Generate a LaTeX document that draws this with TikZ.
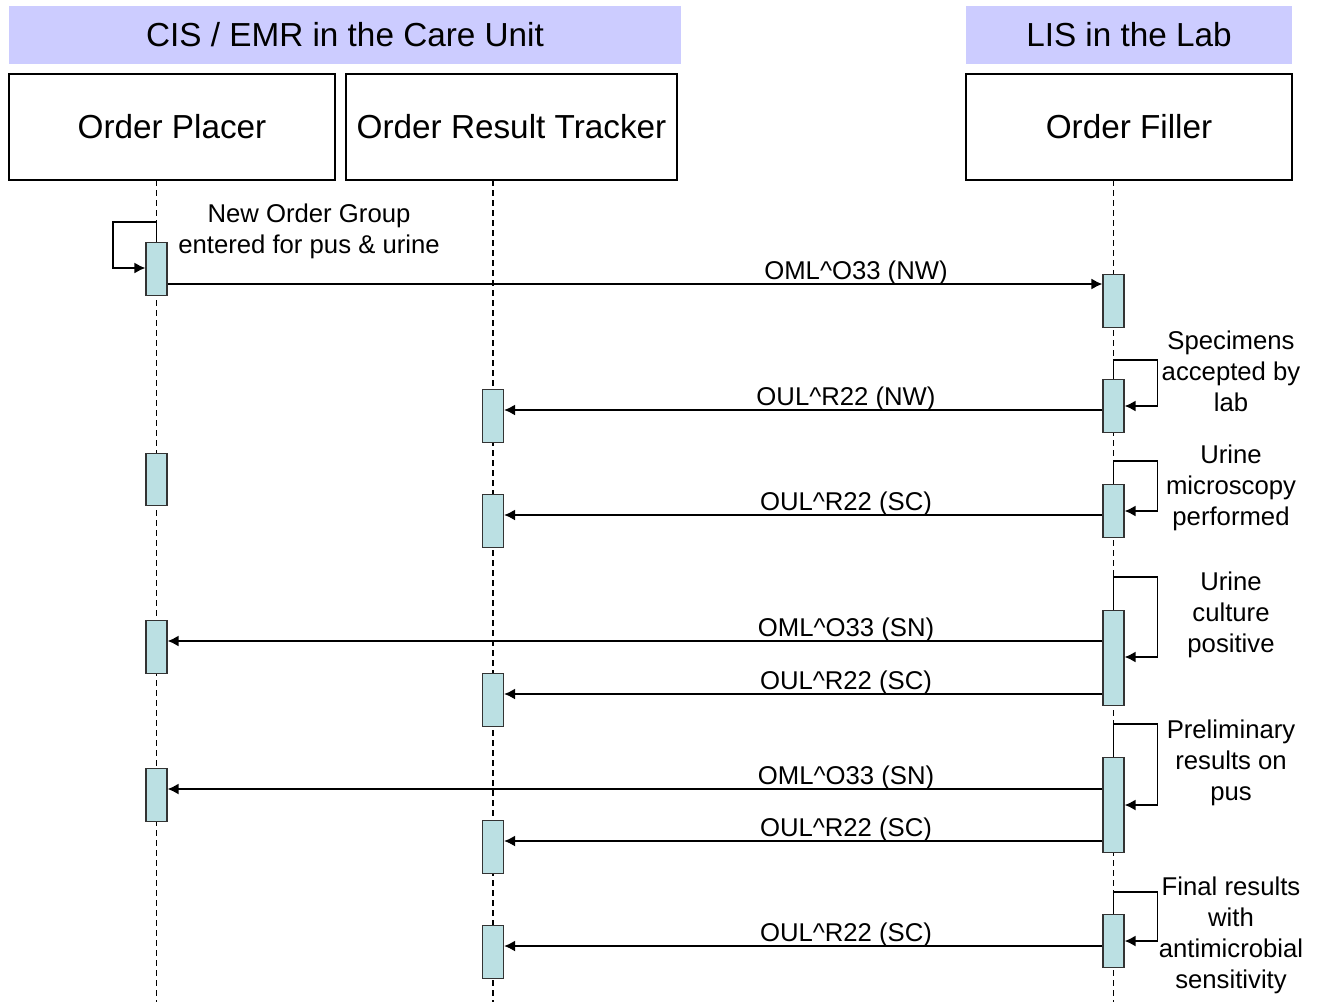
\documentclass[tikz,border=0pt]{standalone}
\usepackage{fontspec}
\setmainfont{Liberation Sans}
\usetikzlibrary{arrows.meta}

\definecolor{groupfill}{HTML}{CCCCFF}
\definecolor{actfill}{HTML}{BBE0E3}

\begin{document}
\begin{tikzpicture}[x = 1pt, y = -1pt, > = {Latex[length = 11pt, width = 11pt]},
	group/.style = {fill = groupfill, minimum height = 58pt, inner sep = 0pt, font = \fontsize{33.3}{40}\selectfont},
	actor/.style = {draw, line width = 1.2pt, minimum height = 106pt, inner sep = 0pt, font = \fontsize{33.3}{40}\selectfont},
	act/.style = {draw = black!80, line width = 1.2pt, fill = actfill, minimum width = 21pt, inner sep = 0pt, anchor = north},
	lbl/.style = {font = \fontsize{25.7}{31}\selectfont, align = center, inner sep = 0pt},
	life/.style = {dash pattern = on 6pt off 4pt, line width = 1.1pt},
	msg/.style = {->, line width = 1.6pt}]

	% Picture frame

	\useasboundingbox (0, 0) rectangle (1324, 1002);

	% Lifeline x positions

	\def\xp{156.5}
	\def\xt{493}
	\def\xf{1113.5}

	% Systems

	\node [group, minimum width = 672pt] (cis) at (345, 35) {CIS / EMR in the Care Unit};
	\node [group, minimum width = 326pt] (lis) at (1129, 35) {LIS in the Lab};

	% Actors

	\node [actor, minimum width = 326pt] (placer) at (172, 127) {Order Placer};
	\node [actor, minimum width = 331pt] (tracker) at (511.5, 127) {Order Result Tracker};
	\node [actor, minimum width = 326pt] (filler) at (1129, 127) {Order Filler};

	% Lifelines

	\draw [life] (\xp, 180) -- (\xp, 1002);
	\draw [life] (\xt, 180) -- (\xt, 1002);
	\draw [life] (\xf, 180) -- (\xf, 1002);

	% Activations

	\node [act, minimum height = 53pt] (pa1) at (\xp, 242) {};
	\node [act, minimum height = 52pt] (pa2) at (\xp, 453) {};
	\node [act, minimum height = 53pt] (pa3) at (\xp, 620) {};
	\node [act, minimum height = 53pt] (pa4) at (\xp, 768) {};

	\node [act, minimum height = 53pt] (ta1) at (\xt, 389) {};
	\node [act, minimum height = 53pt] (ta2) at (\xt, 494) {};
	\node [act, minimum height = 53pt] (ta3) at (\xt, 673) {};
	\node [act, minimum height = 53pt] (ta4) at (\xt, 820) {};
	\node [act, minimum height = 53pt] (ta5) at (\xt, 925) {};

	\node [act, minimum height = 53pt] (fa1) at (\xf, 274) {};
	\node [act, minimum height = 53pt] (fa2) at (\xf, 379) {};
	\node [act, minimum height = 53pt] (fa3) at (\xf, 484) {};
	\node [act, minimum height = 95pt] (fa4) at (\xf, 610) {};
	\node [act, minimum height = 95pt] (fa5) at (\xf, 757) {};
	\node [act, minimum height = 53pt] (fa6) at (\xf, 914) {};

	% Self messages

	\begin{scope}[msg]

		\draw (pa1.north) |- (113, 222) |- (pa1.west |- 0, 268);

		\draw (fa2.north) |- (1157.5, 360) |- (fa2.east |- 0, 406);
		\draw (fa3.north) |- (1157.5, 461) |- (fa3.east |- 0, 511);
		\draw (fa4.north) |- (1157.5, 577) |- (fa4.east |- 0, 657);
		\draw (fa5.north) |- (1157.5, 724) |- (fa5.east |- 0, 805);
		\draw (fa6.north) |- (1157.5, 892) |- (fa6.east |- 0, 941);

	\end{scope}

	\node [lbl] (neworder) at (309, 231) {New Order Group\\entered for pus \& urine};

	\node [lbl] (accepted) at (1231, 371) {Specimens\\accepted by\\lab};
	\node [lbl] (microscopy) at (1231, 488) {Urine\\microscopy\\performed};
	\node [lbl] (culture) at (1231, 615) {Urine\\culture\\positive};
	\node [lbl] (preliminary) at (1231, 763) {Preliminary\\results on\\pus};
	\node [lbl] (final) at (1231, 935) {Final results\\with\\antimicrobial\\sensitivity};

	% Messages between actors

	\begin{scope}[msg]

		\draw (pa1.east |- 0, 284) -- (fa1.west |- 0, 284);
		\draw (fa2.west |- 0, 410) -- (ta1.east |- 0, 410);
		\draw (fa3.west |- 0, 515) -- (ta2.east |- 0, 515);
		\draw (fa4.west |- 0, 641) -- (pa3.east |- 0, 641);
		\draw (fa4.west |- 0, 694) -- (ta3.east |- 0, 694);
		\draw (fa5.west |- 0, 789) -- (pa4.east |- 0, 789);
		\draw (fa5.west |- 0, 841) -- (ta4.east |- 0, 841);
		\draw (fa6.west |- 0, 946) -- (ta5.east |- 0, 946);

	\end{scope}

	\node [lbl, anchor = base] (m1) at (856, 279) {OML\textasciicircum O33 (NW)};
	\node [lbl, anchor = base] (m2) at (846, 405) {OUL\textasciicircum R22 (NW)};
	\node [lbl, anchor = base] (m3) at (846, 510) {OUL\textasciicircum R22 (SC)};
	\node [lbl, anchor = base] (m4) at (846, 636) {OML\textasciicircum O33 (SN)};
	\node [lbl, anchor = base] (m5) at (846, 689) {OUL\textasciicircum R22 (SC)};
	\node [lbl, anchor = base] (m6) at (846, 784) {OML\textasciicircum O33 (SN)};
	\node [lbl, anchor = base] (m7) at (846, 836) {OUL\textasciicircum R22 (SC)};
	\node [lbl, anchor = base] (m8) at (846, 941) {OUL\textasciicircum R22 (SC)};

\end{tikzpicture}
\end{document}
